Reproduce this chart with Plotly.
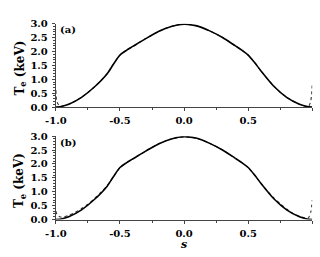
import plotly.graph_objects as go

s_main = [-1.0, -0.95, -0.9, -0.8, -0.7, -0.6, -0.55, -0.5, -0.45, -0.4, -0.3, -0.2, -0.1, 0.0,
          0.1, 0.2, 0.3, 0.4, 0.45, 0.5, 0.55, 0.6, 0.7, 0.8, 0.9, 0.95, 1.0]
te_main = [0.0, 0.03, 0.1, 0.35, 0.72, 1.2, 1.55, 1.87, 2.04, 2.18, 2.46, 2.72, 2.9, 2.98,
           2.92, 2.74, 2.5, 2.2, 2.05, 1.87, 1.6, 1.3, 0.75, 0.35, 0.1, 0.03, 0.0]

s_dash_a = [-1.0, -0.995, -0.985, -0.97, -0.95, -0.9, -0.8, -0.7, -0.6, -0.55, -0.5, -0.45, -0.4, -0.3,
            -0.2, -0.1, 0.0, 0.1, 0.2, 0.3, 0.4, 0.45, 0.5, 0.55, 0.6, 0.7, 0.8, 0.9, 0.95, 0.97,
            0.985, 0.995, 1.0]
te_dash_a = [0.6, 0.25, 0.12, 0.06, 0.04, 0.1, 0.35, 0.72, 1.2, 1.55, 1.87, 2.04, 2.18, 2.46,
             2.72, 2.9, 2.98, 2.92, 2.74, 2.5, 2.2, 2.05, 1.87, 1.6, 1.3, 0.75, 0.35, 0.1, 0.03, 0.02,
             0.15, 0.45, 0.85]

s_dash_b = [-1.0, -0.99, -0.97, -0.95, -0.9, -0.85, -0.8, -0.75, -0.7, -0.65, -0.6, -0.55, -0.5, -0.45,
            -0.4, -0.3, -0.2, -0.1, 0.0, 0.1, 0.2, 0.3, 0.4, 0.45, 0.5, 0.55, 0.6, 0.65, 0.7, 0.75,
            0.8, 0.85, 0.9, 0.95, 0.97, 0.99, 1.0]
te_dash_b = [0.3, 0.16, 0.1, 0.08, 0.15, 0.26, 0.4, 0.55, 0.75, 0.98, 1.22, 1.55, 1.87, 2.04,
             2.18, 2.46, 2.72, 2.9, 2.98, 2.92, 2.74, 2.5, 2.2, 2.05, 1.87, 1.6, 1.3, 1.02, 0.78, 0.57,
             0.38, 0.22, 0.12, 0.05, 0.06, 0.3, 0.7]

fig = go.Figure()
for xa, ya, sd, td in [("x", "y", s_dash_a, te_dash_a), ("x2", "y2", s_dash_b, te_dash_b)]:
    fig.add_trace(go.Scatter(x=sd, y=td, mode="lines", xaxis=xa, yaxis=ya,
                             line=dict(color="#333", width=1.1, dash="dot", shape="spline", smoothing=0.6),
                             showlegend=False))
    fig.add_trace(go.Scatter(x=s_main, y=te_main, mode="lines", xaxis=xa, yaxis=ya,
                             line=dict(color="black", width=1.6, shape="spline", smoothing=0.8),
                             showlegend=False))

fam = "DejaVu Serif, Liberation Serif, serif"
tf = dict(family=fam, size=10, color="black", weight="bold")
xcommon = dict(range=[-1, 1], tickvals=[-1, -0.5, 0, 0.5, 1],
               ticktext=["-1.0", "-0.5", "0.0", "0.5", "1.0"],
               showline=True, linecolor="#444", linewidth=1.2, ticks="outside", ticklen=3,
               tickcolor="#444", showgrid=False, zeroline=False, ticklabelstandoff=1,
               minor=dict(ticks="outside", ticklen=2, tickvals=[-0.75, -0.25, 0.25, 0.75], tickcolor="#444"),
               tickfont=tf, domain=[46.5 / 320, 312 / 320])
ycommon = dict(range=[0, 3.0], tickvals=[0, 0.5, 1, 1.5, 2, 2.5, 3],
               ticktext=["0.0", "0.5", "1.0", "1.5", "2.0", "2.5", "3.0"],
               showline=True, linecolor="#444", linewidth=1.2, ticks="outside", ticklen=3,
               tickcolor="#444", showgrid=False, zeroline=False, ticklabelstandoff=2,
               minor=dict(ticks="outside", ticklen=2, dtick=0.1, tickcolor="#444"),
               tickfont=tf)

fig.update_layout(
    width=320, height=257, margin=dict(l=0, r=0, t=0, b=0),
    paper_bgcolor="white", plot_bgcolor="white",
    xaxis=dict(**xcommon, anchor="y"),
    yaxis=dict(**ycommon, anchor="x", domain=[(257 - 106) / 257, (257 - 18.5) / 257]),
    xaxis2=dict(**xcommon, anchor="y2"),
    yaxis2=dict(**ycommon, anchor="x2", domain=[(257 - 224) / 257, (257 - 136.5) / 257]),
    annotations=[
        dict(text="<b>(a)</b>", xref="paper", yref="paper", x=49 / 320, y=(257 - 25) / 257,
             xanchor="left", yanchor="middle", showarrow=False,
             font=dict(family=fam, size=10, color="black")),
        dict(text="<b>(b)</b>", xref="paper", yref="paper", x=49 / 320, y=(257 - 143) / 257,
             xanchor="left", yanchor="middle", showarrow=False,
             font=dict(family=fam, size=10, color="black")),
        dict(text="<b>T<sub>e</sub> (keV)</b>", xref="paper", yref="paper", x=10 / 320, y=(257 - 65) / 257,
             textangle=-90, xanchor="center", yanchor="middle", showarrow=False,
             font=dict(family=fam, size=12, color="black")),
        dict(text="<b>T<sub>e</sub> (keV)</b>", xref="paper", yref="paper", x=10 / 320, y=(257 - 183) / 257,
             textangle=-90, xanchor="center", yanchor="middle", showarrow=False,
             font=dict(family=fam, size=12, color="black")),
        dict(text="<b><i>s</i></b>", xref="paper", yref="paper", x=179 / 320, y=(257 - 250) / 257,
             xanchor="center", yanchor="middle", showarrow=False,
             font=dict(family=fam, size=11, color="black")),
    ],
)

fig.write_html("out.html")
